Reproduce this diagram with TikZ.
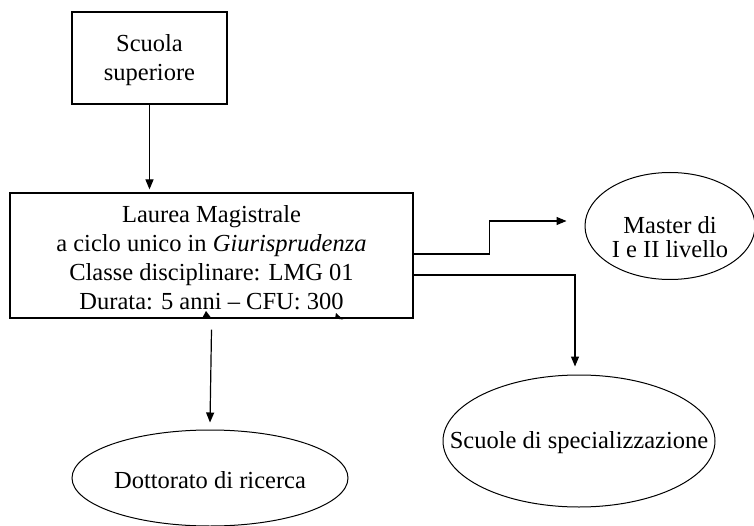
\documentclass[tikz,border=0pt]{standalone}
\usepackage{fontspec}
\setmainfont{Liberation Serif}
\usetikzlibrary{shapes.geometric,arrows.meta}
\begin{document}
\begin{tikzpicture}[x=1pt,y=-1pt,
  every node/.style={font=\fontsize{24.5}{29}\selectfont, align=center, inner sep=0pt},
  box/.style={draw, line width=1.2pt, rectangle},
  oval/.style={draw, line width=1pt, ellipse, inner sep=0pt},
  conn/.style={line width=1.2pt, -{Triangle[length=10pt,width=8pt]}}]
\useasboundingbox (0,0) rectangle (754,526);
\node[box, minimum width=155pt, minimum height=92pt] (scuola) at (149.5,58) {};
\node (scuolatext) at (149.5,60) {Scuola\\superiore};
\node[box, minimum width=403pt, minimum height=125pt] (laurea) at (211.5,255.5) {};
\node (laureatext) at (211.5,258) {Laurea Magistrale\\a ciclo unico in \textit{Giurisprudenza}\\Classe disciplinare: LMG 01\\Durata: 5 anni – CFU: 300};
\node[oval, minimum width=170pt, minimum height=107pt] (master) at (670,226) {};
\node[font=\fontsize{24.5}{23.5}\selectfont] (mastertext) at (670,237) {Master di\\I e II livello};
\node[oval, minimum width=272pt, minimum height=132pt] (scuole) at (579,441) {};
\node (scuoletext) at (579,443) {Scuole di specializzazione};
\node[oval, minimum width=276pt, minimum height=96pt] (dott) at (210,478) {};
\node (dotttext) at (210,480) {Dottorato di ricerca};
\draw[conn, shorten >=3pt] (scuola.south) -- (scuola.south |- laurea.north);
\draw[conn] ([yshift=-11pt]laurea.south) -- ([yshift=7pt]dott.north);
\draw[conn] ([yshift=1.5pt]laurea.east) -- ++(76,0) |- ([xshift=-18pt,yshift=5pt]master.west);
\draw[conn] ([yshift=-19.5pt]laurea.east) -| ([xshift=-4pt,yshift=8pt]scuole.north);
\fill (206,311) -- (202.5,317.5) -- (210.5,317) -- cycle;
\fill (336,313) -- (335,318.5) -- (343,319.5) -- cycle;
\end{tikzpicture}
\end{document}
